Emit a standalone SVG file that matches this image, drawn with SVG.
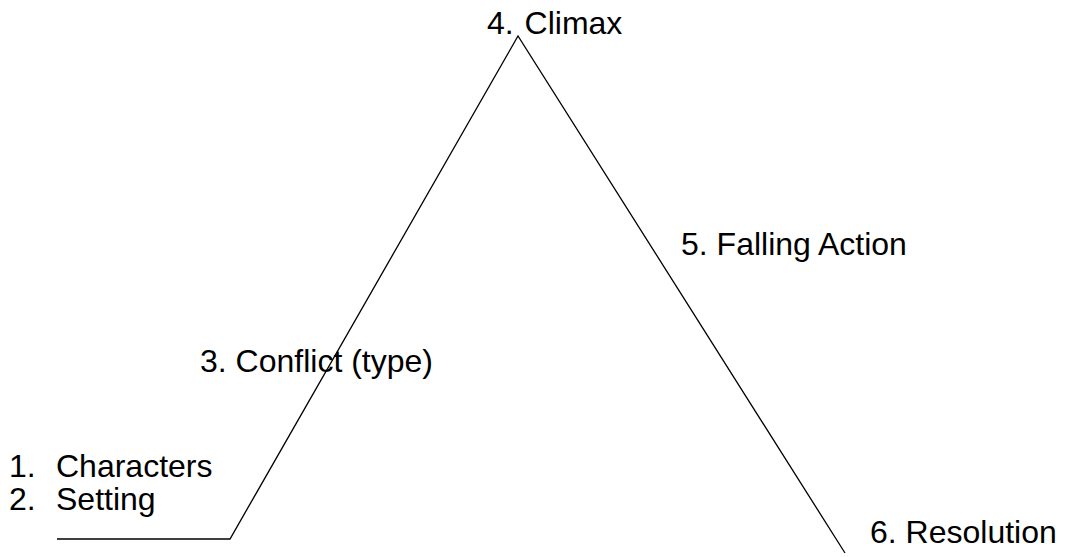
<svg xmlns="http://www.w3.org/2000/svg" width="1065" height="557" viewBox="0 0 1065 557">
<style>
text{font-family:"Liberation Sans",Arial,sans-serif;font-size:32px;fill:#000}
.ln{fill:none;stroke:#000;stroke-width:1.3}
</style>
<rect width="1065" height="557" fill="#fff"/>
<g id="connectors">
<polyline class="ln" points="57,539 230,539 518,36 845,553"/>
</g>
<g id="climax"><text x="487" y="34" word-spacing="2">4. Climax</text></g>
<g id="falling"><text x="681" y="255">5. Falling Action</text></g>
<g id="conflict"><text x="200" y="372">3. Conflict (type)</text></g>
<g id="exposition">
<text x="9" y="477">1.</text><text x="56" y="477">Characters</text>
<text x="9" y="510">2.</text><text x="56" y="510">Setting</text>
</g>
<g id="resolution"><text x="870" y="543">6. Resolution</text></g>
</svg>
